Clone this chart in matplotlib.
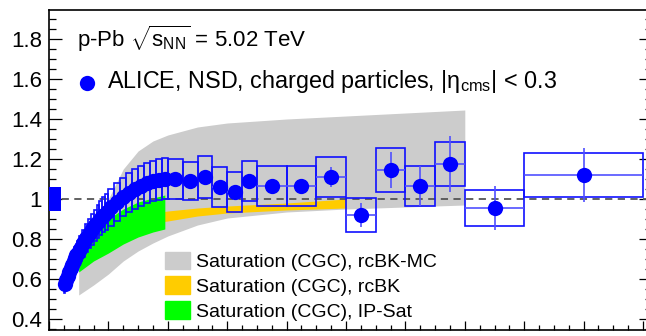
import matplotlib
matplotlib.use("Agg")
import matplotlib.pyplot as plt
from matplotlib.patches import Patch
from matplotlib.ticker import MultipleLocator, FuncFormatter

plt.rcParams['font.family'] = ['Liberation Sans', 'DejaVu Sans']
plt.rcParams['mathtext.fontset'] = 'custom'
plt.rcParams['mathtext.rm'] = 'Liberation Sans'
plt.rcParams['mathtext.it'] = 'Liberation Sans:italic'

# ALICE p-Pb R_pPb, pT bin edges (GeV/c)
edges = [0.5, 0.55, 0.6, 0.65, 0.7, 0.75, 0.8, 0.85, 0.9, 0.95,
         1.0, 1.1, 1.2, 1.3, 1.4, 1.5, 1.6, 1.7, 1.8, 1.9,
         2.0, 2.2, 2.4, 2.6, 2.8, 3.0, 3.2, 3.4, 3.6, 3.8,
         4.0, 4.5, 5.0, 5.5, 6.0, 6.5, 7.0, 8.0, 9.0, 10.0,
         11.0, 12.0, 13.0, 14.0, 16.0, 20.0]
rppb = [0.575, 0.595, 0.615, 0.635, 0.655, 0.672, 0.688, 0.703, 0.718, 0.732,
        0.752, 0.778, 0.803, 0.826, 0.848, 0.868, 0.887, 0.905, 0.921, 0.936,
        0.958, 0.985, 1.010, 1.032, 1.050, 1.065, 1.078, 1.088, 1.096, 1.102,
        1.100, 1.090, 1.110, 1.060, 1.035, 1.090, 1.065, 1.065, 1.110, 0.920,
        1.145, 1.065, 1.175, 0.955, 1.120]
stat = [0.004, 0.004, 0.004, 0.004, 0.004, 0.004, 0.004, 0.004, 0.004, 0.004,
        0.004, 0.004, 0.004, 0.004, 0.005, 0.005, 0.005, 0.005, 0.006, 0.006,
        0.006, 0.006, 0.007, 0.007, 0.007, 0.008, 0.008, 0.008, 0.009, 0.009,
        0.010, 0.012, 0.015, 0.017, 0.020, 0.024, 0.028, 0.035, 0.052, 0.062,
        0.090, 0.100, 0.140, 0.110, 0.135]
syst = [0.045, 0.045, 0.047, 0.048, 0.050, 0.052, 0.054, 0.056, 0.058, 0.060,
        0.063, 0.066, 0.070, 0.073, 0.076, 0.079, 0.082, 0.085, 0.087, 0.089,
        0.092, 0.095, 0.097, 0.099, 0.100, 0.100, 0.100, 0.100, 0.102, 0.104,
        0.102, 0.095, 0.105, 0.100, 0.098, 0.100, 0.098, 0.098, 0.100, 0.085,
        0.110, 0.098, 0.108, 0.090, 0.108]
norm_unc = 0.06

# Saturation (CGC) model bands
mc_pt = [1.0, 1.5, 2.0, 2.5, 3.0, 3.5, 4.0, 5.0, 6.0, 8.0, 10.0, 12.0, 14.0]
mc_lo = [0.52, 0.57, 0.625, 0.69, 0.74, 0.78, 0.815, 0.87, 0.905, 0.935, 0.95, 0.96, 0.97]
mc_hi = [0.70, 0.85, 1.00, 1.15, 1.24, 1.29, 1.32, 1.36, 1.38, 1.40, 1.415, 1.43, 1.445]

bk_pt = [1.0, 1.5, 2.0, 3.0, 4.0, 5.0, 6.0, 8.0, 10.0]
bk_lo = [0.73, 0.785, 0.82, 0.87, 0.89, 0.915, 0.93, 0.945, 0.955]
bk_hi = [0.77, 0.835, 0.87, 0.92, 0.94, 0.955, 0.965, 0.98, 1.0]

ip_pt = [1.0, 1.5, 2.0, 2.5, 3.0, 3.5, 3.9]
ip_lo = [0.635, 0.69, 0.73, 0.775, 0.81, 0.835, 0.85]
ip_hi = [0.71, 0.81, 0.90, 0.95, 0.985, 1.005, 1.02]

centers = [(a + b) / 2 for a, b in zip(edges[:-1], edges[1:])]
widths = [b - a for a, b in zip(edges[:-1], edges[1:])]
halfw = [w / 2 for w in widths]

fig = plt.figure(figsize=(6.46, 3.36), dpi=100)
ax = fig.add_axes([49/646, 6/336, 603/646, 320/336])

ax.fill_between(mc_pt, mc_lo, mc_hi, color='#cccccc', lw=0, zorder=1)
ax.fill_between(bk_pt, bk_lo, bk_hi, color='#ffcc00', lw=0, zorder=2)
ax.fill_between(ip_pt, ip_lo, ip_hi, color='#00ff00', lw=0, zorder=3)

ax.axhline(1.0, color='#555555', lw=1.3, ls=(0, (4, 3)), zorder=4)

ax.bar(centers, [2 * s for s in syst], bottom=[v - s for v, s in zip(rppb, syst)],
       width=widths, fill=False, edgecolor='#1010ff', lw=1.2, zorder=5)
ax.bar(0, 2 * norm_unc, bottom=1 - norm_unc, width=0.42, align='edge',
       color='#0000ff', lw=0, zorder=6)
ax.errorbar(centers, rppb, xerr=halfw, yerr=stat, fmt='none',
            ecolor='#5050ff', elinewidth=1.2, capsize=0, zorder=6)
ax.plot(centers, rppb, 'o', color='#0000ff', ms=11, mec='none', zorder=7)

# header texts
ax.text(0.94, 1.76, r'p-Pb $\sqrt{\mathrm{s}_{\mathrm{NN}}}$ = 5.02 TeV', fontsize=16,
        va='baseline', ha='left')
ax.plot([1.28], [1.58], 'o', color='#0000ff', ms=11, mec='none')
ax.text(1.95, 1.555, r'ALICE, NSD, charged particles, |$\mathrm{\eta}_{\mathrm{cms}}$| < 0.3',
        fontsize=16.8, va='baseline', ha='left')

handles = [Patch(color='#cccccc', label='Saturation (CGC), rcBK-MC'),
           Patch(color='#ffcc00', label='Saturation (CGC), rcBK'),
           Patch(color='#00ff00', label='Saturation (CGC), IP-Sat')]
ax.legend(handles=handles, loc='upper left', bbox_to_anchor=(0.192, 0.245),
          frameon=False, fontsize=14, handlelength=1.3, handleheight=1.0,
          handletextpad=0.3, labelspacing=0.28, borderpad=0, borderaxespad=0)

ax.set_xlim(0, 603 / 29.7)
ax.set_ylim(0.345, 1.945)
ax.xaxis.set_major_locator(MultipleLocator(2))
ax.xaxis.set_minor_locator(MultipleLocator(0.5))
ax.yaxis.set_major_locator(MultipleLocator(0.2))
ax.yaxis.set_minor_locator(MultipleLocator(0.05))
ax.yaxis.set_major_formatter(FuncFormatter(lambda v, p: '%g' % round(v, 2)))
ax.tick_params(axis='y', which='both', direction='in', left=True, right=True,
               labelsize=16, pad=5, width=0.9)
ax.tick_params(axis='y', which='major', length=9.5)
ax.tick_params(axis='y', which='minor', length=5)
ax.tick_params(axis='x', which='both', direction='in', bottom=True, top=False,
               labelbottom=False, width=0.9)
ax.tick_params(axis='x', which='major', length=6.5)
ax.tick_params(axis='x', which='minor', length=3.5)
for s in ax.spines.values():
    s.set_linewidth(1.2)

plt.savefig('out.png', dpi=100)
